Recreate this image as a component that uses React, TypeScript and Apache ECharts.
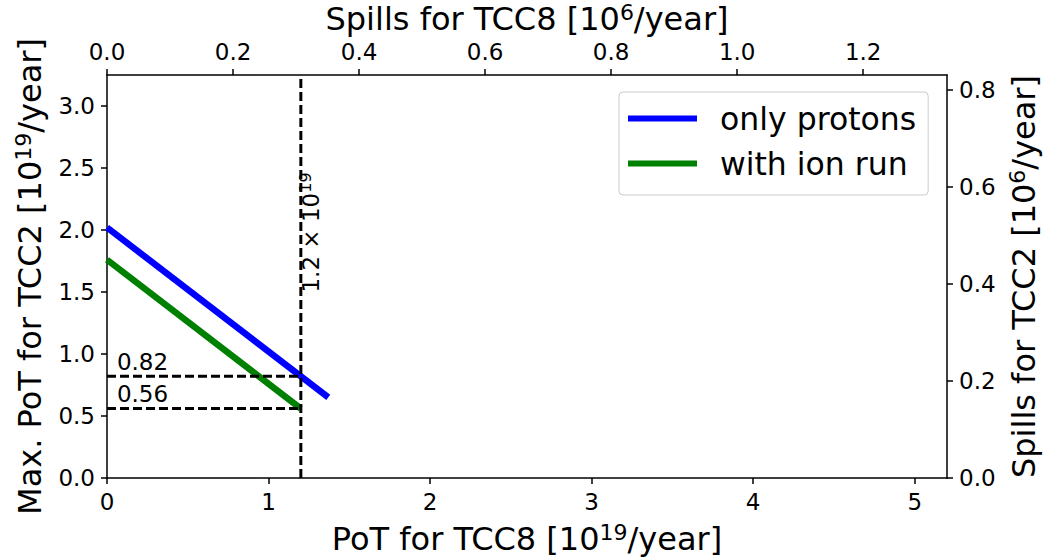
import React, { useEffect, useRef } from "react";
import * as echarts from "echarts";

const bottomTicks = [0, 1, 2, 3, 4, 5];
const topTicks = [0, 0.2, 0.4, 0.6, 0.8, 1.0, 1.2];
const leftTicks = [0, 0.5, 1.0, 1.5, 2.0, 2.5, 3.0];
const rightTicks = [0, 0.2, 0.4, 0.6, 0.8];
const bottomMax = 5.2;
const topMax = 1.333;
const leftMax = 3.25;
const rightMax = 0.83;
const seriesNames = ["only protons", "with ion run"];
const onlyProtons = [
  [0, 2.02],
  [1.37, 0.65],
];
const withIonRun = [
  [0, 1.76],
  [1.2, 0.56],
];
const cutX = 1.2;
const cutLevels = [0.82, 0.56];
const cutLabelX = 0.22;
const cutXLabelPos = [1.26, 1.98];

const FONT = "DejaVu Sans";
const supRich = {
  sup: { fontSize: 22, fontFamily: FONT, color: "#000", padding: [0, 0, 13, 0] },
};

export default function App() {
  const ref = useRef<HTMLDivElement>(null);
  useEffect(() => {
    if (!ref.current) return;
    const chart = echarts.init(ref.current, null, { renderer: "svg" });
    const axisCommon = {
      type: "value",
      axisLine: { show: true, onZero: false, lineStyle: { color: "#000", width: 1.5 } },
      axisTick: { show: true, inside: false, length: 6, lineStyle: { color: "#000", width: 1.5 } },
      splitLine: { show: false },
      nameLocation: "middle",
      nameTextStyle: { fontFamily: FONT, fontSize: 32, color: "#000", rich: supRich },
    };
    const lbl = (vals: number[], digits: number, margin: number) => ({
      fontFamily: FONT,
      fontSize: 23,
      color: "#000",
      margin,
      customValues: vals,
      formatter: (v: number) => v.toFixed(digits),
    });
    const dashed = { color: "#000", width: 3, type: [9, 4] as any };
    const option: any = {
      animation: false,
      backgroundColor: "#fff",
      grid: { left: 107, right: 96, top: 75, bottom: 80, containLabel: false, outerBoundsMode: "none" },
      legend: {
        data: seriesNames,
        orient: "vertical",
        left: 619,
        top: 92,
        icon: "rect",
        itemWidth: 69,
        itemHeight: 6,
        itemGap: 10,
        padding: [9, 12, 14, 9],
        borderColor: "#cccccc",
        borderWidth: 1,
        borderRadius: 4,
        backgroundColor: "#fff",
        textStyle: { fontFamily: FONT, fontSize: 31.5, color: "#000", lineHeight: 35, padding: [0, 0, 0, 18] },
      },
      xAxis: [
        {
          ...axisCommon,
          position: "bottom",
          min: 0,
          max: bottomMax,
          name: "PoT for TCC8 [10{sup|19}/year]",
          nameGap: 43,
          axisTick: { ...axisCommon.axisTick, customValues: bottomTicks },
          axisLabel: lbl(bottomTicks, 0, 12),
        },
        {
          ...axisCommon,
          position: "top",
          min: 0,
          max: topMax,
          name: "Spills for TCC8 [10{sup|6}/year]",
          nameGap: 38,
          axisTick: { ...axisCommon.axisTick, customValues: topTicks },
          axisLabel: lbl(topTicks, 1, 12),
        },
      ],
      yAxis: [
        {
          ...axisCommon,
          position: "left",
          min: 0,
          max: leftMax,
          name: "Max. PoT for TCC2 [10{sup|19}/year]",
          nameGap: 60,
          axisTick: { ...axisCommon.axisTick, customValues: leftTicks },
          axisLabel: lbl(leftTicks, 1, 12),
        },
        {
          ...axisCommon,
          position: "right",
          min: 0,
          max: rightMax,
          name: "Spills for TCC2 [10{sup|6}/year]",
          nameGap: 58,
          axisTick: { ...axisCommon.axisTick, customValues: rightTicks },
          axisLabel: lbl(rightTicks, 1, 12),
        },
      ],
      series: [
        {
          name: seriesNames[0],
          type: "line",
          data: onlyProtons,
          symbol: "none",
          lineStyle: { color: "#0000ff", width: 6.5 },
          itemStyle: { color: "#0000ff" },
          z: 2,
        },
        {
          name: seriesNames[1],
          type: "line",
          data: withIonRun,
          symbol: "none",
          lineStyle: { color: "#008000", width: 6.5 },
          itemStyle: { color: "#008000" },
          z: 2,
        },
        {
          name: "cutV",
          type: "line",
          data: [
            [cutX, 0],
            [cutX, leftMax],
          ],
          symbol: "none",
          lineStyle: dashed,
          z: 3,
        },
        ...cutLevels.map((lv, i) => ({
          name: "cutH" + i,
          type: "line",
          data: [
            [0, lv],
            [cutX, lv],
          ],
          symbol: "none",
          lineStyle: dashed,
          z: 3,
        })),
        {
          name: "cutLabels",
          type: "scatter",
          symbolSize: 0,
          itemStyle: { opacity: 1, color: "#000" },
          data: cutLevels.map((lv) => [cutLabelX, lv]),
          label: {
            show: true,
            position: "top",
            distance: 3,
            fontFamily: FONT,
            fontSize: 23,
            color: "#000",
            formatter: (p: any) => p.value[1].toFixed(2),
          },
          z: 4,
        },
        {
          name: "cutXLabel",
          type: "scatter",
          symbolSize: 0,
          itemStyle: { opacity: 1, color: "#000" },
          data: [cutXLabelPos],
          label: {
            show: true,
            position: "inside",
            rotate: 90,
            fontFamily: FONT,
            fontSize: 23,
            color: "#000",
            formatter: cutX.toFixed(1) + " × 10{sup|19}",
            rich: { sup: { fontSize: 16, fontFamily: FONT, color: "#000", padding: [0, 0, 10, 0] } },
          },
          z: 4,
        },
      ],
    };
    chart.setOption(option);
    return () => chart.dispose();
  }, []);
  return (
    <div
      ref={ref}
      style={{ position: "fixed", left: 0, top: 0, width: 1043, height: 558, background: "#fff" }}
    />
  );
}
